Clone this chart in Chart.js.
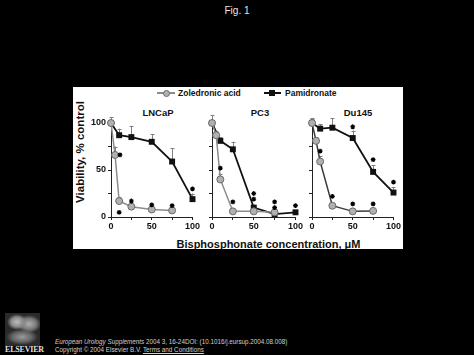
<!DOCTYPE html>
<html>
<head>
<meta charset="utf-8">
<script src="https://cdn.jsdelivr.net/npm/chart.js@4"></script>
<style>
  html, body { margin:0; padding:0; background:#000; width:474px; height:355px; overflow:hidden; }
  body { position:relative; font-family:"Liberation Sans", Arial, sans-serif; }
  .abs { position:absolute; white-space:nowrap; }
  #fig { position:absolute; left:73px; top:87px; width:330px; height:162px; background:#fff; overflow:hidden; }
  canvas { position:absolute; }
  .bold { font-weight:bold; color:#111; }
</style>
</head>
<body>
<div class="abs" style="left:0;width:474px;top:5px;text-align:center;color:#e6e6e6;font-size:10px;">Fig. 1</div>

<div id="fig"></div>

<!-- footer -->
<div class="abs" id="logo" style="left:5px;top:313px;width:35px;height:33px;
  background:
   radial-gradient(ellipse 10px 8px at 12px 9px, #bdbdbd 0%, #8a8a8a 60%, rgba(0,0,0,0) 100%),
   radial-gradient(ellipse 12px 9px at 24px 11px, #b0b0b0 0%, #7a7a7a 60%, rgba(0,0,0,0) 100%),
   radial-gradient(ellipse 16px 8px at 17px 24px, #9a9a9a 0%, #666 60%, rgba(0,0,0,0) 100%),
   #2a2a2a;"></div>
<div class="abs" style="left:5px;top:345px;width:36px;text-align:center;font-family:'Liberation Serif',serif;font-size:8px;font-weight:bold;color:#e0e0e0;letter-spacing:-0.2px;">ELSEVIER</div>
<div class="abs" style="left:55px;top:338px;font-size:6.3px;color:#d0d0d0;"><i>European Urology Supplements</i> 2004 3, 16-24DOI: (10.1016/j.eursup.2004.08.008)</div>
<div class="abs" style="left:55px;top:346px;font-size:6.3px;color:#d0d0d0;">Copyright © 2004 Elsevier B.V. <u>Terms and Conditions</u></div>

<script>
// ---------------- data ----------------
const panelNames = ['LNCaP', 'PC3', 'Du145'];
const seriesNames = ['Zoledronic acid', 'Pamidronate'];
const xTickValues = [0, 25, 50, 75, 100];
const xTickLabels = ['0', '', '50', '', '100'];
const yTickValues = [0, 25, 50, 75, 100];
const yTickLabels = ['0', '', '50', '', '100'];
const xAxisTitle = 'Bisphosphonate concentration, \u03bcM';
const yAxisTitle = 'Viability, % control';

// LNCaP
const lncapZolX   = [0, 5, 10, 25, 50, 75];
const lncapZolY   = [100, 66, 17, 11, 8, 7];
const lncapZolErr = [6, 9, 4, 3, 2, 2];
const lncapPamX   = [0, 10, 25, 50, 75, 100];
const lncapPamY   = [100, 87, 85, 80, 59, 19];
const lncapPamErr = [0, 7, 12, 8, 14, 6];
const lncapStarX  = [11, 10, 25, 50, 75, 100];
const lncapStarY  = [66, 5, 17, 13, 12, 30];

// PC3
const pc3ZolX   = [0, 5, 10, 25, 50, 75];
const pc3ZolY   = [100, 87, 40, 6, 6, 5];
const pc3ZolErr = [8, 4, 6, 3, 2, 2];
const pc3PamX   = [0, 10, 25, 50, 75, 100];
const pc3PamY   = [100, 81, 72, 10, 3, 5];
const pc3PamErr = [0, 4, 8, 3, 2, 2];
const pc3StarX  = [10, 25, 50, 50, 75, 75, 100];
const pc3StarY  = [52, 16, 25, 19, 16, 10, 12];

// Du145
const du145ZolX   = [0, 5, 10, 25, 50, 75];
const du145ZolY   = [100, 81, 59, 12, 6, 6.5];
const du145ZolErr = [4, 4, 6, 3, 1, 1];
const du145PamX   = [0, 10, 25, 50, 75, 100];
const du145PamY   = [100, 94, 95, 84, 48, 26];
const du145PamErr = [5, 5, 10, 8, 7, 6];
const du145StarX  = [10, 25, 50, 75, 50, 75, 100];
const du145StarY  = [70, 22, 14, 14, 96, 61, 37];

// ---------------- layout / style ----------------
const FONT = '"Liberation Sans", Arial, sans-serif';
const ZOL_FILL = '#b0b0b0', ZOL_BORDER = '#6a6a6a';
const PAM_COLOR = '#111111';
const ERR_COLOR = '#808080';

const panelData = [
  { zx: lncapZolX, zy: lncapZolY, ze: lncapZolErr, px: lncapPamX, py: lncapPamY, pe: lncapPamErr, sx: lncapStarX, sy: lncapStarY, zolLine: '#8c8c8c' },
  { zx: pc3ZolX, zy: pc3ZolY, ze: pc3ZolErr, px: pc3PamX, py: pc3PamY, pe: pc3PamErr, sx: pc3StarX, sy: pc3StarY, zolLine: '#8c8c8c' },
  { zx: du145ZolX, zy: du145ZolY, ze: du145ZolErr, px: du145PamX, py: du145PamY, pe: du145PamErr, sx: du145StarX, sy: du145StarY, zolLine: '#3c3c3c' }
];
const plotLeft  = [111, 212, 312];
const plotRight = [193, 296, 394];
const plotTop = 123, plotBottom = 217;
const padTop = 12, padRight = 8, yAxisW = 30, xAxisH = 20;
const panelTitleX = [158, 260, 358];

const fig = document.getElementById('fig');
const FIG_L = 73, FIG_T = 87;

function addText(txt, x, y, size, extra) {
  const d = document.createElement('div');
  d.className = 'abs bold';
  d.textContent = txt;
  d.style.fontSize = size + 'px';
  d.style.left = (x - FIG_L) + 'px';
  d.style.top = (y - FIG_T) + 'px';
  d.style.transform = 'translate(-50%,-50%)' + (extra || '');
  d.style.lineHeight = '1';
  fig.appendChild(d);
  return d;
}

// legend
function legendItem(x0, x1, mx, isZol, label, tx) {
  const y = 93;
  const line = document.createElement('div');
  line.className = 'abs';
  Object.assign(line.style, { left: (x0 - FIG_L) + 'px', top: (y - FIG_T - 0.75) + 'px', width: (x1 - x0) + 'px', height: '1.5px', background: isZol ? '#8c8c8c' : PAM_COLOR });
  fig.appendChild(line);
  const m = document.createElement('div');
  m.className = 'abs';
  if (isZol) {
    Object.assign(m.style, { left: (mx - FIG_L - 3.5) + 'px', top: (y - FIG_T - 3.5) + 'px', width: '5px', height: '5px', borderRadius: '50%', background: ZOL_FILL, border: '1px solid ' + ZOL_BORDER });
  } else {
    Object.assign(m.style, { left: (mx - FIG_L - 3) + 'px', top: (y - FIG_T - 3) + 'px', width: '6px', height: '6px', background: PAM_COLOR });
  }
  fig.appendChild(m);
  const t = document.createElement('div');
  t.className = 'abs bold';
  t.textContent = label;
  Object.assign(t.style, { left: (tx - FIG_L) + 'px', top: (y - FIG_T) + 'px', fontSize: '8.5px', lineHeight: '1', transform: 'translateY(-50%)' });
  fig.appendChild(t);
}
legendItem(157, 175, 166.5, true, seriesNames[0], 178);
legendItem(264, 281, 272, false, seriesNames[1], 285);

panelNames.forEach((n, i) => addText(n, panelTitleX[i], 113, 9.5));
addText(xAxisTitle, 268.5, 243.5, 11);
addText(yAxisTitle, 80.5, 152, 11.5, ' rotate(-90deg)');

// error bar plugin (draws through the chart scales)
const errorBarPlugin = {
  id: 'errorBars',
  beforeDatasetsDraw(chart) {
    const ctx = chart.ctx;
    const xs = chart.scales.x, ys = chart.scales.y;
    ctx.save();
    ctx.strokeStyle = ERR_COLOR;
    ctx.lineWidth = 1;
    chart.data.datasets.forEach(ds => {
      if (!ds.errors) return;
      ds.data.forEach((p, k) => {
        const e = ds.errors[k];
        if (!e) return;
        const x = Math.round(xs.getPixelForValue(p.x)) + 0.5;
        const y0 = ys.getPixelForValue(p.y);
        const y1 = ys.getPixelForValue(p.y + e);
        ctx.beginPath();
        ctx.moveTo(x, y0);
        ctx.lineTo(x, y1);
        ctx.moveTo(x - 2, Math.round(y1) + 0.5);
        ctx.lineTo(x + 2, Math.round(y1) + 0.5);
        ctx.stroke();
      });
    });
    ctx.restore();
  }
};

function pts(xa, ya) { return xa.map((x, k) => ({ x: x, y: ya[k] })); }

panelData.forEach((pd, i) => {
  const cv = document.createElement('canvas');
  const w = yAxisW + (plotRight[i] - plotLeft[i]) + padRight;
  const h = padTop + (plotBottom - plotTop) + xAxisH;
  cv.width = w; cv.height = h;
  cv.style.width = w + 'px'; cv.style.height = h + 'px';
  cv.style.left = (plotLeft[i] - yAxisW - FIG_L) + 'px';
  cv.style.top = (plotTop - padTop - FIG_T) + 'px';
  fig.appendChild(cv);
  const showY = i === 0;
  new Chart(cv, {
    type: 'scatter',
    data: {
      datasets: [
        { label: 'stars', data: pts(pd.sx, pd.sy), showLine: false, pointStyle: 'star', pointRadius: 2.4, borderColor: '#000', backgroundColor: '#000', borderWidth: 1.2, clip: false },
        { label: seriesNames[0], data: pts(pd.zx, pd.zy), errors: pd.ze, showLine: true, borderColor: pd.zolLine, borderWidth: 1.5, pointStyle: 'circle', pointRadius: 3.5, pointBackgroundColor: ZOL_FILL, pointBorderColor: ZOL_BORDER, pointBorderWidth: 1, clip: false },
        { label: seriesNames[1], data: pts(pd.px, pd.py), errors: pd.pe, showLine: true, borderColor: PAM_COLOR, borderWidth: 1.8, pointStyle: 'rect', pointRadius: 4.2, pointBackgroundColor: PAM_COLOR, pointBorderColor: PAM_COLOR, pointBorderWidth: 0, clip: false }
      ]
    },
    options: {
      responsive: false, animation: false, devicePixelRatio: 1,
      layout: { padding: { top: padTop, right: padRight, left: 0, bottom: 0 } },
      plugins: { legend: { display: false }, tooltip: { enabled: false }, title: { display: false } },
      elements: { line: { tension: 0 } },
      scales: {
        x: {
          type: 'linear', min: 0, max: 100, position: 'bottom',
          afterBuildTicks: s => { s.ticks = xTickValues.map(v => ({ value: v })); },
          ticks: { autoSkip: false, maxRotation: 0, padding: 1, color: '#111',
            font: { family: FONT, size: 9, weight: 'bold' },
            callback: v => xTickLabels[xTickValues.indexOf(v)] },
          grid: { drawOnChartArea: false, drawTicks: true, tickLength: 3, color: '#222' },
          border: { display: true, color: '#222', width: 1 },
          afterFit: s => { s.height = xAxisH; }
        },
        y: {
          type: 'linear', min: 0, max: 100, position: 'left',
          afterBuildTicks: s => { s.ticks = yTickValues.map(v => ({ value: v })); },
          ticks: { autoSkip: false, padding: 2, color: '#111',
            font: { family: FONT, size: 9, weight: 'bold' },
            callback: v => showY ? yTickLabels[yTickValues.indexOf(v)] : '' },
          grid: { drawOnChartArea: false, drawTicks: true, tickLength: 3, color: '#222' },
          border: { display: true, color: '#222', width: 1 },
          afterFit: s => { s.width = yAxisW; }
        }
      }
    },
    plugins: [errorBarPlugin]
  });
});
</script>
</body>
</html>
